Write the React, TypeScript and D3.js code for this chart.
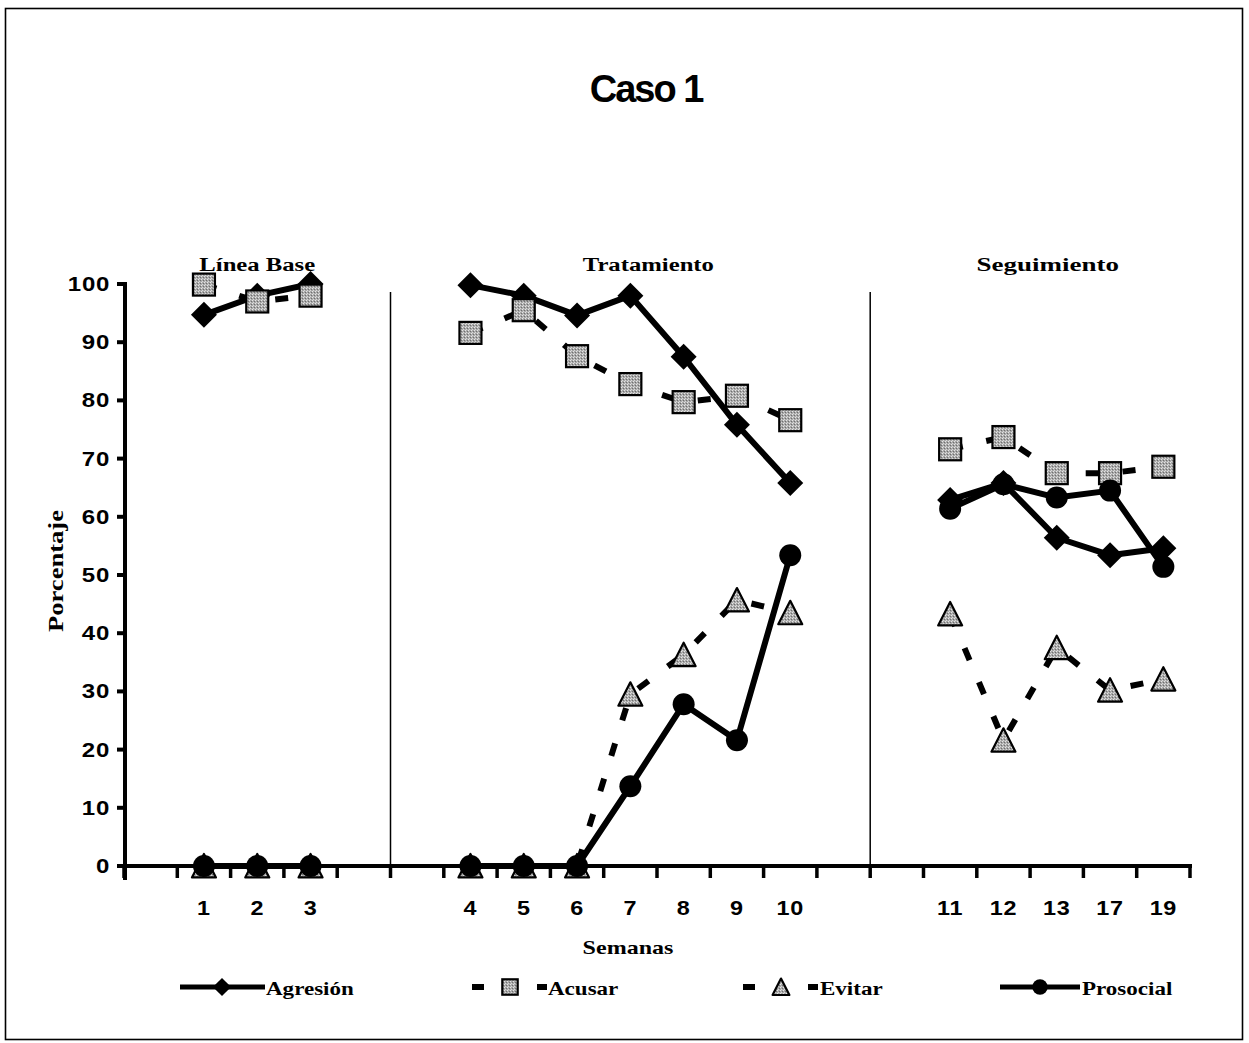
import React from "react";
import * as d3 from "d3";

// Category slots along the x axis; null entries are empty gaps between phases.
const categories: (string | null)[] = [
  null, "1", "2", "3", null, null,
  "4", "5", "6", "7", "8", "9", "10", null, null,
  "11", "12", "13", "17", "19",
];
const weeks = ["1", "2", "3", "4", "5", "6", "7", "8", "9", "10", "11", "12", "13", "17", "19"];
const phaseNames = ["Línea Base", "Tratamiento", "Seguimiento"];
const phaseWeeks = [
  ["1", "2", "3"],
  ["4", "5", "6", "7", "8", "9", "10"],
  ["11", "12", "13", "17", "19"],
];

const agresion = [94.7, 98, 100, 99.8, 98, 94.6, 98, 87.5, 75.8, 65.8, 62.9, 65.8, 56.4, 53.4, 54.6];
const acusar = [99.9, 97, 98, 91.6, 95.5, 87.6, 82.8, 79.7, 80.8, 76.6, 71.6, 73.7, 67.5, 67.5, 68.6];
const evitar = [0, 0, 0, 0, 0, 0, 29.5, 36.3, 45.7, 43.5, 43.3, 21.6, 37.5, 30.2, 32.1];
const prosocial = [0, 0, 0, 0, 0, 0, 13.7, 27.8, 21.6, 53.4, 61.4, 65.6, 63.3, 64.5, 51.4];

const yTicks = d3.range(0, 101, 10);

type Marker = "diamond" | "square" | "triangle" | "circle";
type Series = { name: string; values: number[]; marker: Marker; dashed: boolean };

const series: Series[] = [
  { name: "Agresión", values: agresion, marker: "diamond", dashed: false },
  { name: "Acusar", values: acusar, marker: "square", dashed: true },
  { name: "Evitar", values: evitar, marker: "triangle", dashed: true },
  { name: "Prosocial", values: prosocial, marker: "circle", dashed: false },
];

const W = 1249;
const H = 1043;
const plotLeft = 124;
const plotRight = 1190;
const yBottom = 866;
const yTop = 284;

const DASH = "13 24";
const SERIF = "'Liberation Serif', 'Times New Roman', serif";
const SANS = "'Liberation Sans', Arial, sans-serif";

function MarkerShape({ type, x, y, s = 1 }: { type: Marker; x: number; y: number; s?: number }) {
  if (type === "diamond") {
    const r = 13 * s;
    return (
      <path
        d={`M${x},${y - r}L${x + r},${y}L${x},${y + r}L${x - r},${y}Z`}
        fill="#000"
      />
    );
  }
  if (type === "square") {
    const h = 11 * s;
    return (
      <rect x={x - h} y={y - h} width={2 * h} height={2 * h} fill="url(#stipple)" stroke="#000" strokeWidth={2.2} />
    );
  }
  if (type === "triangle") {
    const h = 12 * s;
    return (
      <path
        d={`M${x},${y - h}L${x + h},${y + h * 0.95}L${x - h},${y + h * 0.95}Z`}
        fill="url(#stipple)"
        stroke="#000"
        strokeWidth={2.2}
        strokeLinejoin="round"
      />
    );
  }
  return <circle cx={x} cy={y} r={11 * s} fill="#000" />;
}

function StretchText({
  x, y, children, size, family, anchor = "start", sx = 1.3, weight = "bold", spacing = 0,
}: {
  x: number; y: number; children: React.ReactNode; size: number; family: string;
  anchor?: "start" | "middle" | "end"; sx?: number; weight?: string; spacing?: number;
}) {
  return (
    <text
      transform={`translate(${x},${y}) scale(${sx},1)`}
      fontFamily={family}
      fontSize={size}
      fontWeight={weight}
      textAnchor={anchor}
      letterSpacing={spacing}
      fill="#000"
    >
      {children}
    </text>
  );
}

export default function App() {
  const x = d3
    .scaleBand<number>()
    .domain(d3.range(categories.length))
    .range([plotLeft, plotRight])
    .padding(0);
  const bw = x.bandwidth();
  const y = d3.scaleLinear().domain([0, 100]).range([yBottom, yTop]);

  const slotOf = (w: string) => categories.indexOf(w);
  const cx = (w: string) => (x(slotOf(w)) as number) + bw / 2;

  const line = d3
    .line<[number, number]>()
    .x((d) => d[0])
    .y((d) => d[1]);

  const boundaries = d3.range(categories.length + 1).map((i) => plotLeft + i * bw);

  // phase separators sit at the slot boundaries in the middle of each gap
  const separators = [5, 14].map((i) => plotLeft + i * bw);

  const phaseLabelX = [
    (cx("1") + cx("3")) / 2,
    (cx("4") + cx("10")) / 2 + 18,
    (cx("11") + cx("19")) / 2 - 9,
  ];

  const legendItems = [
    { s: series[0], x0: 180, x1: 265, mx: 222, tx: 266 },
    { s: series[1], x0: 472, x1: 547, mx: 510, tx: 548 },
    { s: series[2], x0: 743, x1: 818, mx: 781, tx: 820 },
    { s: series[3], x0: 1000, x1: 1080, mx: 1040, tx: 1082 },
  ];
  const legendY = 987;

  return (
    <svg
      width={W}
      height={H}
      viewBox={`0 0 ${W} ${H}`}
      style={{ position: "absolute", left: 0, top: 0, background: "#fff" }}
    >
      <defs>
        <pattern id="stipple" width={3} height={3} patternUnits="userSpaceOnUse">
          <rect width={3} height={3} fill="#a9a9a9" />
          <rect x={0} y={0} width={1} height={1} fill="#e6e6e6" />
          <rect x={2} y={1} width={1} height={1} fill="#6f6f6f" />
          <rect x={1} y={2} width={1} height={1} fill="#d8d8d8" />
        </pattern>
      </defs>

      <rect x={5.5} y={8.5} width={1237} height={1031} fill="none" stroke="#000" strokeWidth={1.6} />

      {/* title */}
      <text
        x={646}
        y={102}
        textAnchor="middle"
        fontFamily={SANS}
        fontWeight="bold"
        fontSize={38}
        letterSpacing={-2}
        fill="#000"
      >
        Caso 1
      </text>

      {/* phase labels */}
      {phaseNames.map((p, i) => (
        <StretchText key={p} x={phaseLabelX[i]} y={271} size={19} family={SERIF} anchor="middle" sx={i === 2 ? 1.42 : 1.3}>
          {p}
        </StretchText>
      ))}

      {/* phase separators */}
      {separators.map((sx, i) => (
        <line key={i} x1={sx} x2={sx} y1={292} y2={yBottom} stroke="#000" strokeWidth={1.5} />
      ))}

      {/* y axis */}
      <line x1={plotLeft + 1} x2={plotLeft + 1} y1={yTop - 2} y2={yBottom + 14} stroke="#000" strokeWidth={4} />
      {yTicks.map((t) => (
        <g key={t}>
          <line x1={117} x2={plotLeft} y1={y(t)} y2={y(t)} stroke="#000" strokeWidth={4} />
          <StretchText x={110} y={y(t) + 7} size={20} family={SANS} anchor="end" sx={1.2} spacing={0.6}>
            {t}
          </StretchText>
        </g>
      ))}

      {/* x axis */}
      <line x1={117} x2={plotRight + 2} y1={yBottom} y2={yBottom} stroke="#000" strokeWidth={4} />
      {boundaries.map((bx, i) => (
        <line key={i} x1={bx} x2={bx} y1={yBottom} y2={yBottom + 12} stroke="#000" strokeWidth={3.5} />
      ))}
      {weeks.map((w) => (
        <StretchText key={w} x={cx(w)} y={915} size={20} family={SANS} anchor="middle" sx={1.17} spacing={0.6}>
          {w}
        </StretchText>
      ))}

      {/* axis titles */}
      <StretchText x={628} y={954} size={18.5} family={SERIF} anchor="middle" sx={1.3}>
        Semanas
      </StretchText>
      <text
        transform={`translate(63,${571}) rotate(-90) scale(1.4,1.05)`}
        fontFamily={SERIF}
        fontSize={19}
        fontWeight="bold"
        textAnchor="middle"
        fill="#000"
      >
        Porcentaje
      </text>

      {/* series */}
      {series.map((s) => (
        <g key={s.name}>
          {phaseWeeks.map((pw, pi) => {
            const pts: [number, number][] = pw.map((w) => [cx(w), y(s.values[weeks.indexOf(w)])]);
            return (
              <path
                key={pi}
                d={line(pts) || ""}
                fill="none"
                stroke="#000"
                strokeWidth={6}
                strokeDasharray={s.dashed ? DASH : undefined}
                strokeLinejoin="round"
              />
            );
          })}
          {weeks.map((w, i) => (
            <MarkerShape key={w} type={s.marker} x={cx(w)} y={y(s.values[i])} />
          ))}
        </g>
      ))}

      {/* legend */}
      {legendItems.map(({ s, x0, x1, mx, tx }) => (
        <g key={s.name}>
          {s.dashed ? (
            <>
              <line x1={x0} x2={x0 + 12} y1={legendY} y2={legendY} stroke="#000" strokeWidth={6} />
              <line x1={x1 - 10} x2={x1} y1={legendY} y2={legendY} stroke="#000" strokeWidth={6} />
            </>
          ) : (
            <line x1={x0} x2={x1} y1={legendY} y2={legendY} stroke="#000" strokeWidth={5} />
          )}
          <MarkerShape type={s.marker} x={mx} y={legendY} s={0.7} />
          <StretchText x={tx} y={legendY + 8} size={18} family={SERIF} sx={1.28}>
            {s.name}
          </StretchText>
        </g>
      ))}
    </svg>
  );
}
